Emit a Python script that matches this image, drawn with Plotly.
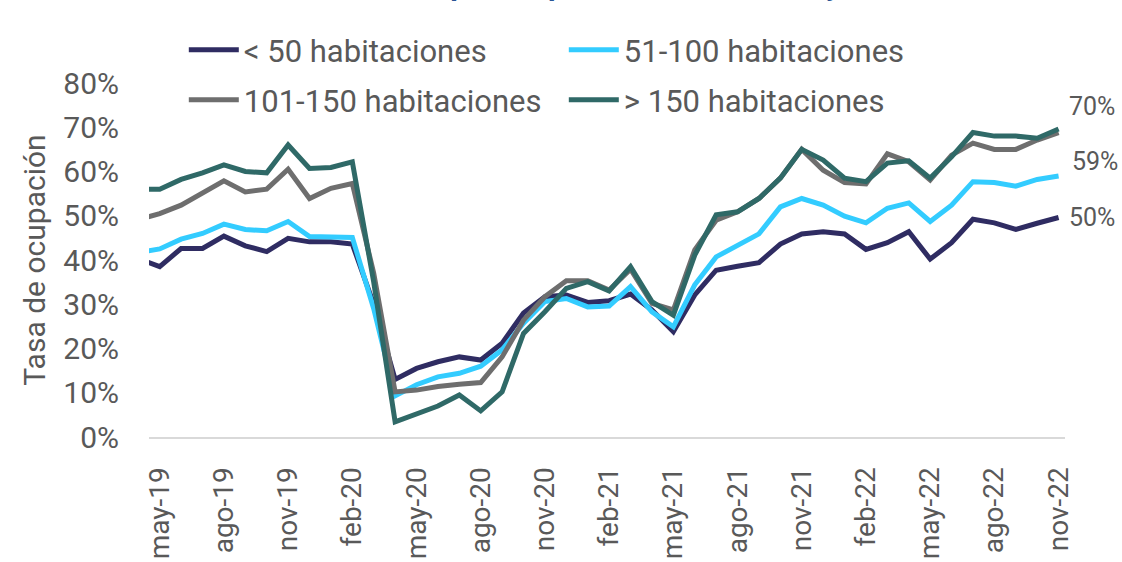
import plotly.graph_objects as go

MONTHS = [
    "abr-19", "may-19", "jun-19", "jul-19", "ago-19", "sep-19", "oct-19", "nov-19", "dic-19",
    "ene-20", "feb-20", "mar-20", "abr-20", "may-20", "jun-20", "jul-20", "ago-20", "sep-20",
    "oct-20", "nov-20", "dic-20", "ene-21", "feb-21", "mar-21", "abr-21", "may-21", "jun-21",
    "jul-21", "ago-21", "sep-21", "oct-21", "nov-21", "dic-21", "ene-22", "feb-22", "mar-22",
    "abr-22", "may-22", "jun-22", "jul-22", "ago-22", "sep-22", "oct-22", "nov-22",
]
TICK_MONTHS = MONTHS[1::3]
Y_TICKS = [0, 10, 20, 30, 40, 50, 60, 70, 80]

LT50 = [
    40.3, 38.5, 42.6, 42.6, 45.4, 43.2, 41.9, 44.9, 44.1, 44.1, 43.6, 30.0, 13.0, 15.5, 17.0,
    18.1, 17.4, 21.2, 28.0, 31.7, 32.1, 30.4, 30.8, 32.3, 28.7, 23.8, 32.1, 37.7, 38.6, 39.4,
    43.6, 45.9, 46.4, 45.9, 42.4, 43.9, 46.4, 40.2, 43.9, 49.2, 48.4, 46.9, 48.3, 49.6,
]
R51_100 = [
    41.7, 42.5, 44.7, 46.0, 48.1, 46.9, 46.6, 48.7, 45.3, 45.1, 45.1, 29.0, 9.3, 11.8, 13.6,
    14.4, 16.0, 19.7, 25.7, 30.6, 31.3, 29.4, 29.6, 34.0, 28.3, 24.9, 34.4, 40.7, 43.2, 45.9,
    52.0, 53.9, 52.4, 49.9, 48.4, 51.7, 52.9, 48.7, 52.4, 57.7, 57.5, 56.7, 58.2, 59.0,
]
R101_150 = [
    49.1, 50.5, 52.4, 55.2, 57.9, 55.4, 56.0, 60.5, 53.9, 56.2, 57.3, 37.0, 10.2, 10.6, 11.4,
    11.9, 12.3, 18.1, 26.4, 31.7, 35.3, 35.3, 33.2, 37.9, 30.2, 28.7, 42.3, 49.0, 50.9, 53.9,
    58.5, 65.0, 60.3, 57.5, 57.2, 64.0, 62.2, 58.1, 63.7, 66.4, 65.0, 65.0, 67.1, 68.8,
]
GT150 = [
    56.0, 56.0, 58.2, 59.7, 61.5, 60.0, 59.7, 66.0, 60.7, 60.9, 62.2, 35.0, 3.4, 5.3, 7.0,
    9.5, 5.9, 10.2, 23.4, 28.3, 33.6, 35.1, 33.0, 38.5, 30.6, 27.5, 41.1, 50.2, 50.9, 53.9,
    58.5, 65.0, 62.6, 58.5, 57.7, 61.9, 62.4, 58.5, 63.3, 68.8, 68.0, 68.0, 67.5, 69.6,
]

GREY_TEXT = "#595959"
FONT = "Roboto"

series = [
    ("< 50 habitaciones", LT50, "#2F2C62", "legend"),
    ("51-100 habitaciones", R51_100, "#33CCFF", "legend"),
    ("101-150 habitaciones", R101_150, "#6E6E6E", "legend2"),
    ("> 150 habitaciones", GT150, "#2F6967", "legend2"),
]

fig = go.Figure()
for name, values, color, legend in series:
    fig.add_trace(
        go.Scatter(
            x=MONTHS,
            y=values,
            name=name,
            mode="lines",
            line={"color": color, "width": 5},
            legend=legend,
        )
    )

# end labels for three of the series
for values, shift_y, shift_x in [(GT150, 23, 8), (R51_100, 14, 11), (LT50, 0, 8)]:
    fig.add_annotation(
        x=MONTHS[-1], y=values[-1], text=f"{values[-1]:.0f}%", showarrow=False,
        xanchor="left", yanchor="middle", xshift=shift_x, yshift=shift_y,
        font={"family": FONT, "size": 25, "color": GREY_TEXT},
    )

# title, cut off at the top of the picture
fig.add_annotation(
    xref="paper", yref="paper", x=0.1507, y=1.279, xanchor="left", yanchor="middle",
    text="<b>Tasa de ocupación por tamaño de hotel y mes</b>", showarrow=False,
    font={"family": FONT, "size": 30, "color": "#2A5594"},
)

legend_style = dict(
    orientation="h", xanchor="left", yanchor="middle",
    entrywidth=315, entrywidthmode="pixels", itemwidth=50,
    font={"family": FONT, "size": 31, "color": GREY_TEXT},
    bgcolor="rgba(0,0,0,0)",
)

fig.update_layout(
    width=1122,
    height=562,
    paper_bgcolor="white",
    plot_bgcolor="white",
    margin={"l": 149, "r": 57, "t": 83, "b": 125, "autoexpand": False},
    font={"family": FONT, "color": GREY_TEXT},
    legend={**legend_style, "x": 0.038, "y": 1.093},
    legend2={**legend_style, "x": 0.038, "y": 0.952},
    showlegend=True,
)
fig.update_xaxes(
    type="category",
    categoryorder="array",
    categoryarray=MONTHS,
    range=[0.5, 43.3],
    tickmode="array",
    tickvals=TICK_MONTHS,
    ticktext=TICK_MONTHS,
    tickangle=-90,
    ticks="",
    ticklabelstandoff=17,
    tickfont={"family": FONT, "size": 28, "color": GREY_TEXT},
    showgrid=False,
    showline=True,
    linecolor="#D9D9D9",
    linewidth=2,
    zeroline=False,
    automargin=False,
)
fig.update_yaxes(
    range=[0, 80],
    tickmode="array",
    tickvals=Y_TICKS,
    ticktext=[f"{v}%" for v in Y_TICKS],
    ticks="",
    ticklabelstandoff=29,
    tickfont={"family": FONT, "size": 30, "color": GREY_TEXT},
    showgrid=False,
    zeroline=False,
    automargin=False,
    title={"text": "Tasa de ocupación", "standoff": 8,
           "font": {"family": FONT, "size": 30, "color": GREY_TEXT}},
)

# the page's default body margin would shift the figure by 8px
fig.write_html(
    "out.html",
    config={"displayModeBar": False},
    post_script="document.body.style.margin = '0px';",
)
